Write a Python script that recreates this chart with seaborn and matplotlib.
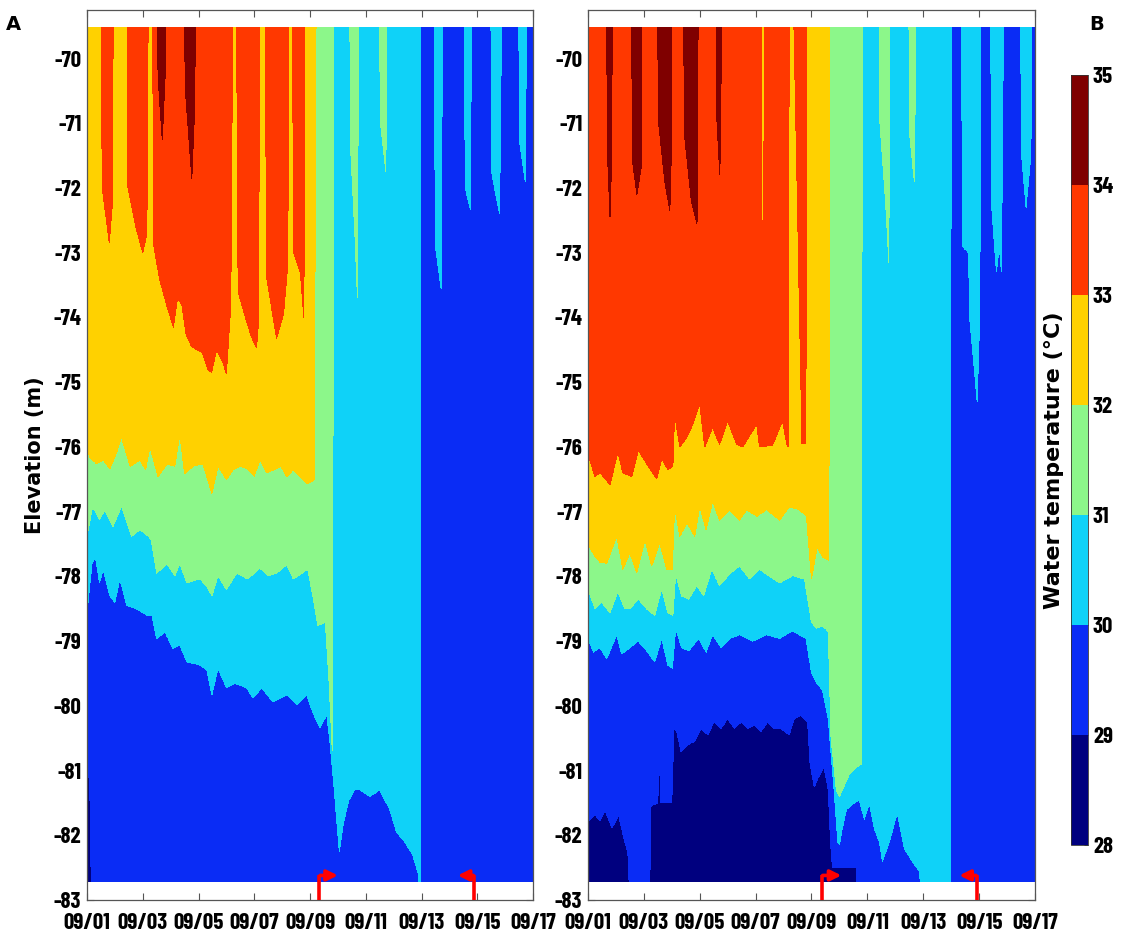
import numpy as np
import matplotlib
matplotlib.use("Agg")
import matplotlib.pyplot as plt
from matplotlib.colors import ListedColormap, BoundaryNorm
import seaborn as sns

# ---------------------------------------------------------------- data
TOP = -69.0   # isotherm lies above the water column (absent)
BOT = -83.5   # isotherm lies below the bottom (absent)

tick_days = [0, 2, 4, 6, 8, 10, 12, 14, 16]
tick_labels = ["09/01", "09/03", "09/05", "09/07", "09/09",
               "09/11", "09/13", "09/15", "09/17"]
elev_ticks = list(range(-70, -84, -1))
levels = [28, 29, 30, 31, 32, 33, 34, 35]
level_colors = ["#00007f", "#0a2cf5", "#0fd2f8", "#8cf78a",
                "#ffd100", "#ff3800", "#7f0000"]
surface_elev = -69.52
bottom_elev = -82.72

# Panel A: elevation (m) of each isotherm vs day since 09/01
A_iso29 = [(0, -80.9), (0.1, -81.2), (0.18, BOT), (0.6, BOT), (0.65, -82.0), (0.7, BOT),
           (9.74, BOT), (9.79, -81.85), (9.84, BOT), (16, BOT)]
A_iso30 = [(0, -78.56), (0.18, -77.8), (0.3, -77.69), (0.45, -78.1), (0.58, -77.89),
           (0.82, -78.3), (1.0, -78.4), (1.18, -78.04), (1.43, -78.45), (1.78, -78.5),
           (2.15, -78.6), (2.33, -78.6), (2.5, -78.96), (2.8, -78.86), (3.08, -79.11),
           (3.33, -79.06), (3.58, -79.32), (4.05, -79.37), (4.3, -79.45), (4.48, -79.83),
           (4.7, -79.42), (5.0, -79.72), (5.3, -79.65), (5.73, -79.72), (5.95, -79.88),
           (6.27, -79.72), (6.67, -79.94), (7.17, -79.83), (7.53, -79.98), (7.88, -79.83),
           (8.1, -80.1), (8.35, -80.34), (8.6, -80.14), (8.7, -80.5), (8.85, -81.2),
           (9.05, -82.25), (9.2, -81.8), (9.4, -81.45), (9.6, -81.3), (9.8, -81.3),
           (10.15, -81.4), (10.5, -81.3), (10.86, -81.6), (11.1, -81.95), (11.4, -82.1),
           (11.68, -82.3), (11.9, -82.62), (11.95, BOT), (11.97, TOP),
           (12.45, TOP), (12.5, -72.9), (12.7, -73.55), (12.76, TOP),
           (13.53, TOP), (13.57, -72.0), (13.75, -72.33), (13.8, TOP),
           (14.48, TOP), (14.53, -71.8), (14.8, -72.4), (14.88, TOP),
           (15.48, TOP), (15.52, -71.3), (15.72, -71.9), (15.78, TOP), (16, TOP)]
A_iso31 = [(0, -77.38), (0.2, -76.92), (0.45, -77.12), (0.64, -76.97), (0.93, -77.23),
           (1.24, -76.92), (1.6, -77.38), (1.9, -77.28), (2.2, -77.38), (2.3, -77.43),
           (2.5, -77.95), (2.87, -77.8), (3.15, -77.99), (3.33, -77.8), (3.58, -78.1),
           (4.05, -78.04), (4.3, -78.15), (4.48, -78.3), (4.7, -77.99), (5.0, -78.2),
           (5.37, -77.95), (5.77, -78.04), (6.2, -77.87), (6.5, -77.99), (6.8, -77.95),
           (7.17, -77.82), (7.4, -78.04), (7.92, -77.89), (8.1, -78.3), (8.28, -78.76),
           (8.55, -78.71), (8.68, -79.6), (8.8, -80.7), (8.86, TOP),
           (9.42, TOP), (9.47, -71.5), (9.62, -72.8), (9.7, -73.7), (9.74, TOP),
           (10.48, TOP), (10.53, -71.0), (10.72, -71.75), (10.76, TOP), (16, TOP)]
A_iso32 = [(0, -76.0), (0.1, -76.16), (0.35, -76.26), (0.58, -76.2), (0.82, -76.34),
           (1.05, -76.1), (1.24, -75.85), (1.55, -76.3), (1.9, -76.2), (2.1, -76.35),
           (2.26, -76.0), (2.55, -76.46), (2.87, -76.26), (3.15, -76.3), (3.33, -75.8),
           (3.5, -76.41), (3.8, -76.3), (4.16, -76.26), (4.48, -76.72), (4.7, -76.3),
           (5.0, -76.5), (5.25, -76.35), (5.48, -76.3), (5.73, -76.33), (6.0, -76.45),
           (6.2, -76.2), (6.45, -76.4), (6.67, -76.36), (6.95, -76.3), (7.17, -76.46),
           (7.4, -76.35), (7.63, -76.46), (7.92, -76.57), (8.15, -76.51), (8.22, TOP),
           (16, TOP)]
A_iso33 = [(0, TOP), (0.5, TOP), (0.55, -72.0), (0.8, -72.85), (0.9, -72.3), (0.95, TOP),
           (1.43, TOP), (1.47, -72.0), (1.75, -72.6), (2.0, -73.0), (2.15, -72.7), (2.2, TOP),
           (2.35, TOP), (2.4, -72.9), (2.6, -73.4), (2.85, -73.8), (3.1, -74.15),
           (3.25, -73.7), (3.4, -73.8), (3.55, -74.25), (3.75, -74.45), (3.95, -74.5),
           (4.15, -74.55), (4.33, -74.8), (4.47, -74.85), (4.65, -74.5), (4.88, -74.7),
           (5.0, -74.87), (5.13, -74.0), (5.18, -73.0), (5.22, TOP),
           (5.36, TOP), (5.42, -73.6), (5.65, -73.95), (5.9, -74.3), (6.08, -74.47),
           (6.15, -74.1), (6.2, TOP),
           (6.38, TOP), (6.45, -73.4), (6.8, -74.32), (7.05, -73.95), (7.2, -73.2), (7.25, TOP),
           (7.36, TOP), (7.42, -73.0), (7.65, -73.3), (7.78, -74.0), (7.82, TOP), (16, TOP)]
A_iso34 = [(0, TOP), (2.5, TOP), (2.55, -70.3), (2.7, -71.25), (2.8, -70.3), (2.85, TOP),
           (3.48, TOP), (3.53, -70.5), (3.76, -71.85), (3.86, -70.8), (3.9, TOP), (16, TOP)]
A_cold = []

# Panel B
B_iso29 = [(0, -81.78), (0.25, -81.68), (0.43, -81.78), (0.61, -81.62), (0.86, -81.88),
           (1.1, -81.7), (1.25, -81.98), (1.43, -82.28), (1.55, BOT), (2.2, BOT),
           (2.24, -81.55), (2.5, -81.5), (2.55, -80.5), (2.6, -81.5), (3.0, -81.5),
           (3.08, -80.35), (3.18, -80.4), (3.33, -80.71), (3.57, -80.6), (3.82, -80.55),
           (4.05, -80.35), (4.29, -80.45), (4.52, -80.24), (4.76, -80.35), (5.0, -80.2),
           (5.24, -80.35), (5.48, -80.25), (5.71, -80.35), (5.95, -80.3), (6.19, -80.4),
           (6.43, -80.25), (6.67, -80.35), (6.9, -80.35), (7.2, -80.45), (7.38, -80.2),
           (7.62, -80.15), (7.86, -80.25), (7.95, -80.9), (8.1, -81.25), (8.25, -81.1),
           (8.45, -80.95), (8.6, -81.3), (8.68, -82.1), (8.75, -82.5), (9.6, -82.5),
           (9.68, BOT), (16, BOT)]
B_iso30 = [(0, -78.96), (0.2, -79.17), (0.43, -79.1), (0.67, -79.27), (1.03, -78.9),
           (1.2, -79.2), (1.5, -79.1), (1.8, -79.0), (2.1, -79.15), (2.39, -79.32),
           (2.64, -78.96), (2.86, -79.37), (3.02, -79.42), (3.14, -78.8), (3.35, -79.1),
           (3.6, -79.15), (3.96, -78.96), (4.23, -79.17), (4.46, -78.9), (4.76, -79.1),
           (5.07, -78.96), (5.43, -78.9), (5.9, -79.0), (6.39, -78.9), (6.86, -78.96),
           (7.32, -78.84), (7.8, -78.96), (8.0, -79.48), (8.18, -79.65), (8.39, -79.75),
           (8.6, -80.2), (8.75, -81.0), (8.82, -81.36), (8.94, -82.1), (9.0, -82.15),
           (9.1, -81.9), (9.25, -81.6), (9.54, -81.5), (9.71, -81.45), (9.89, -81.75),
           (10.07, -81.5), (10.25, -81.9), (10.43, -82.1), (10.54, -82.4), (10.79, -82.1),
           (11.07, -81.65), (11.32, -82.2), (11.68, -82.45), (11.86, -82.55), (12.04, BOT),
           (12.98, BOT), (13.0, TOP),
           (13.37, TOP), (13.4, -72.9), (13.62, -73.0), (13.66, -74.0), (13.93, -75.3),
           (14.02, -74.0), (14.07, TOP),
           (14.41, TOP), (14.45, -72.3), (14.62, -73.3), (14.72, -72.9), (14.8, -73.3),
           (14.88, TOP),
           (15.48, TOP), (15.52, -71.5), (15.68, -72.3), (15.85, -71.5), (15.9, TOP), (16, TOP)]
B_iso31 = [(0, -78.19), (0.25, -78.5), (0.49, -78.4), (0.79, -78.56), (1.07, -78.24),
           (1.32, -78.5), (1.5, -78.5), (1.8, -78.35), (2.1, -78.5), (2.39, -78.6),
           (2.64, -78.19), (2.86, -78.56), (3.04, -78.6), (3.14, -77.96), (3.35, -78.3),
           (3.6, -78.35), (3.9, -78.14), (4.14, -78.3), (4.43, -77.89), (4.71, -78.14),
           (5.07, -77.96), (5.43, -77.84), (5.79, -78.04), (6.14, -77.89), (6.5, -78.0),
           (6.86, -78.1), (7.32, -77.99), (7.75, -78.04), (8.0, -78.71), (8.18, -78.8),
           (8.39, -78.76), (8.6, -78.85), (8.7, -80.5), (8.89, -81.3), (9.0, -81.4),
           (9.36, -81.05), (9.6, -80.95), (9.79, -80.9), (9.82, TOP),
           (10.41, TOP), (10.45, -71.0), (10.65, -72.2), (10.77, -73.15), (10.8, TOP),
           (11.48, TOP), (11.52, -71.2), (11.68, -71.9), (11.75, TOP), (16, TOP)]
B_iso32 = [(0, -77.5), (0.25, -77.69), (0.43, -77.78), (0.67, -77.8), (1.03, -77.38),
           (1.25, -77.89), (1.5, -77.64), (1.75, -77.94), (2.04, -77.43), (2.28, -77.84),
           (2.57, -77.48), (2.82, -77.89), (3.02, -77.89), (3.1, -76.92), (3.29, -77.38),
           (3.54, -77.17), (3.82, -77.38), (4.0, -76.92), (4.23, -77.28), (4.46, -76.84),
           (4.71, -77.13), (5.07, -76.97), (5.43, -77.13), (5.68, -76.97), (6.04, -77.07),
           (6.39, -76.97), (6.86, -77.13), (7.21, -76.92), (7.57, -76.97), (7.82, -77.07),
           (8.0, -78.04), (8.2, -77.55), (8.4, -77.7), (8.62, -77.75), (8.65, TOP), (16, TOP)]
B_iso33 = [(0, -76.1), (0.25, -76.46), (0.43, -76.4), (0.79, -76.58), (1.07, -76.08),
           (1.25, -76.4), (1.57, -76.46), (1.8, -76.05), (2.1, -76.26), (2.46, -76.49),
           (2.64, -76.18), (2.86, -76.35), (3.04, -76.3), (3.1, -75.5), (3.29, -76.0),
           (3.54, -75.85), (3.75, -75.65), (4.0, -75.34), (4.18, -76.0), (4.46, -75.7),
           (4.71, -75.96), (5.0, -75.6), (5.32, -75.96), (5.54, -76.0), (6.04, -75.65),
           (6.14, -76.0), (6.61, -75.97), (6.96, -75.6), (7.14, -76.0), (7.18, -76.0),
           (7.2, TOP), (7.35, TOP), (7.62, -75.0), (7.66, -75.95), (7.8, -75.95),
           (7.83, TOP), (16, TOP)]
B_iso34 = [(0, TOP), (0.66, TOP), (0.7, -71.5), (0.79, -72.45), (0.85, -71.5), (0.87, TOP),
           (1.55, TOP), (1.6, -71.6), (1.75, -72.1), (1.9, -71.7), (1.94, TOP),
           (2.48, TOP), (2.53, -71.0), (2.75, -71.9), (2.93, -72.35), (2.98, -71.5), (3.01, TOP),
           (3.41, TOP), (3.46, -71.2), (3.7, -72.2), (3.9, -72.55), (3.95, TOP),
           (4.58, TOP), (4.62, -71.0), (4.72, -71.8), (4.8, TOP), (16, TOP)]
# cooler (yellow) tongue reaching down from the surface into the >33 ºC layer
B_cold = [[(0, TOP), (6.2, TOP), (6.23, -72.5), (6.28, -73.55), (6.32, TOP), (16, TOP)]]

# event arrows (start day, pointing-to day)
A_arrows = [(8.32, 9.0), (13.9, 13.3)]
B_arrows = [(8.36, 9.07), (13.93, 13.29)]

# ---------------------------------------------------------------- style
sns.set_style("ticks", {"xtick.direction": "in", "ytick.direction": "in"})
plt.rcParams["font.family"] = ["Barlow Condensed", "DejaVu Sans"]
plt.rcParams["text.color"] = "black"
plt.rcParams["xtick.color"] = "black"
plt.rcParams["ytick.color"] = "black"
plt.rcParams["axes.labelcolor"] = "black"

palette = sns.color_palette(level_colors)
cmap = ListedColormap(palette)
norm = BoundaryNorm(levels, cmap.N)

t = np.linspace(0, 16, 3201)
z = np.linspace(bottom_elev, surface_elev, 661)
dz = z[1] - z[0]
ZZ = z[:, None]


def build_field(isos, colds):
    out = np.full((z.size, t.size), levels[0] + 0.5)
    for pts in isos:
        d, e = np.array(pts, dtype=float).T
        b = np.interp(t, d, e)[None, :]
        out += np.clip((ZZ - b) / dz + 0.5, 0, 1)
    for pts in colds:
        d, e = np.array(pts, dtype=float).T
        b = np.interp(t, d, e)[None, :]
        out -= np.clip((ZZ - b) / dz + 0.5, 0, 1)
    return out


fig = plt.figure(figsize=(11.21, 9.46), dpi=100)
axA = fig.add_axes([0.0776, 0.0486, 0.3979, 0.9408])
axB = fig.add_axes([0.5245, 0.0486, 0.3988, 0.9408])
cax = fig.add_axes([0.9554, 0.1068, 0.0152, 0.8140])

panels = [
    (axA, [A_iso29, A_iso30, A_iso31, A_iso32, A_iso33, A_iso34], A_cold, A_arrows),
    (axB, [B_iso29, B_iso30, B_iso31, B_iso32, B_iso33, B_iso34], B_cold, B_arrows),
]

tick_font = dict(family=["Barlow Condensed", "DejaVu Sans"], weight="bold", size=16.5)
spine_col = "#555555"
for ax, isos, colds, arrows in panels:
    field = build_field(isos, colds)
    cs = ax.contourf(t, z, field, levels=levels, cmap=cmap, norm=norm)
    ax.set_xlim(0, 16)
    ax.set_ylim(-83, -69.25)
    ax.set_xticks(tick_days)
    ax.set_xticklabels(tick_labels, fontdict=tick_font)
    ax.set_yticks(elev_ticks)
    ax.set_yticklabels([str(v) for v in elev_ticks], fontdict=tick_font)
    ax.tick_params(axis="both", which="both", direction="in", top=True, right=True,
                   length=5, width=0.8, color=spine_col, pad=4)
    ax.tick_params(axis="x", pad=9)
    for sp in ax.spines.values():
        sp.set_visible(True)
        sp.set_color(spine_col)
        sp.set_linewidth(0.9)
    for d0, d1 in arrows:
        ax.plot([d0, d0], [-83, -82.62], color="#ff0000", lw=2.6,
                solid_capstyle="butt", clip_on=False, zorder=5)
        ax.annotate("", xy=(d1, -82.62), xytext=(d0 + (0.04 if d1 > d0 else -0.04), -82.62),
                    arrowprops=dict(arrowstyle="-|>", color="#ff0000", lw=2.6,
                                    mutation_scale=16, shrinkA=0, shrinkB=0),
                    annotation_clip=False, zorder=6)

axA.set_ylabel("Elevation (m)", fontfamily="DejaVu Sans", fontweight="bold",
               fontsize=15, labelpad=6)

cbar = fig.colorbar(cs, cax=cax, ticks=levels)
cbar.ax.tick_params(length=3, width=0.6, direction="in", color="#333333")
cbar.ax.set_yticks(levels)
cbar.ax.set_yticklabels([str(v) for v in levels], fontdict=tick_font)
cbar.outline.set_linewidth(0.6)
cbar.outline.set_edgecolor("#333333")
cbar.ax.yaxis.set_label_position("left")
cbar.set_label("Water temperature (°C)", fontfamily="DejaVu Sans", fontweight="bold",
               fontsize=16, labelpad=5)

fig.text(13 / 1121, 1 - 25 / 946, "A", ha="center", va="center",
         fontfamily="DejaVu Sans", fontweight="bold", fontsize=14)
fig.text(1097 / 1121, 1 - 25 / 946, "B", ha="center", va="center",
         fontfamily="DejaVu Sans", fontweight="bold", fontsize=14)

fig.savefig("out.png", dpi=100)
